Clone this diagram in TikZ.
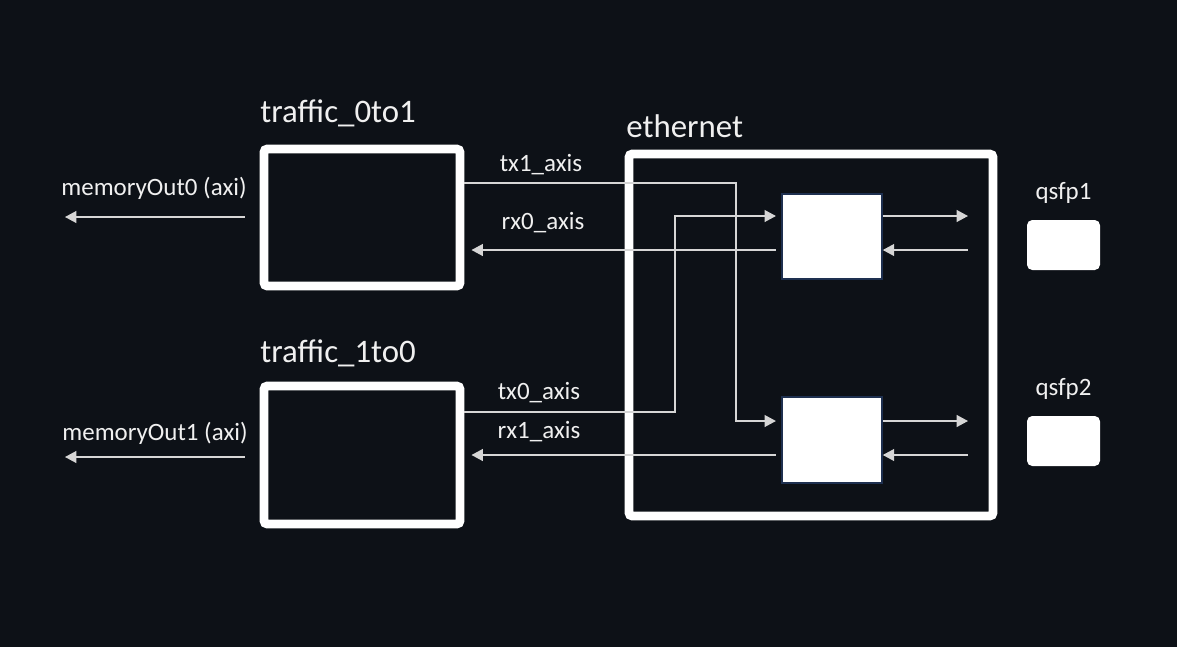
\documentclass[tikz,border=0pt]{standalone}
\usepackage{fontspec}
\setmainfont{Carlito}
\usetikzlibrary{arrows.meta,positioning,fit}
\definecolor{bgdark}{RGB}{13,17,23}
\definecolor{wireclr}{RGB}{214,214,214}
\definecolor{edgeblue}{RGB}{30,48,80}
\definecolor{txtclr}{RGB}{240,240,240}
\tikzset{
  blockbox/.style={draw=white, line width=5.1pt, rounded corners=2pt, inner sep=0pt},
  macbox/.style={draw=edgeblue, fill=white, line width=0.9pt, inner sep=0pt},
  portbox/.style={fill=white, rounded corners=3pt, inner sep=0pt},
  sig/.style={draw=wireclr, line width=0.8pt, -{Triangle[length=6.5pt,width=6.8pt]}},
  bigtitle/.style={text=txtclr, font=\fontsize{18.7}{22}\selectfont, inner sep=0pt, anchor=base west},
  wirelabel/.style={text=txtclr, font=\fontsize{14.2}{17}\selectfont, inner sep=0pt}
}
\begin{document}
\begin{tikzpicture}[x=0.02cm, y=-0.02cm]

% background
\fill[bgdark] (0,0) rectangle (1177,647);
\useasboundingbox (0,0) rectangle (1177,647);

% traffic blocks
\node[blockbox, fit={(264,149) (460,286)}] (t01) {};
\node[bigtitle] (t01lbl) at (260,122) {traffic\_0to1};
\node[blockbox, fit={(264,386) (460,524)}] (t10) {};
\node[bigtitle] (t10lbl) at (260,362) {traffic\_1to0};

% ethernet block
\node[blockbox, fit={(629,154) (993,516)}] (eth) {};
\node[bigtitle] (ethlbl) at (626,137) {ethernet};
\node[macbox, fit={(782,194) (882,279)}] (macA) {};
\node[macbox, fit={(782,397) (882,483)}] (macB) {};

% qsfp ports
\node[portbox, fit={(1027,220) (1100,270)}] (qsfpA) {};
\node[wirelabel, above=9pt of qsfpA] (qsfpAlbl) {qsfp1};
\node[portbox, fit={(1027,416) (1100,466)}] (qsfpB) {};
\node[wirelabel, above=9pt of qsfpB] (qsfpBlbl) {qsfp2};

% free ends
\coordinate (mem0) at (65,217);
\coordinate (mem1) at (65,457);
\coordinate (pAout) at (968,216);
\coordinate (pAin) at (968,250);
\coordinate (pBout) at (968,421);
\coordinate (pBin) at (968,455);

% memory outputs
\draw[sig] (t01.west |- mem0) ++(-15,0) -- (mem0);
\node[wirelabel] (mem0lbl) at (154,188) {memoryOut0 (axi)};
\draw[sig] (t10.west |- mem1) ++(-15,0) -- (mem1);
\node[wirelabel] (mem1lbl) at (155,433) {memoryOut1 (axi)};

% crossing streams
\draw[sig] (t01.east |- 0,183) -| (736,421) -- ([xshift=-3pt]macB.west |- 0,421);
\node[wirelabel] (tx1lbl) at (541,165) {tx1\_axis};
\draw[sig] (t10.east |- 0,412) -| (675,216) -- ([xshift=-3pt]macA.west |- 0,216);
\node[wirelabel] (tx0lbl) at (539,393) {tx0\_axis};
\draw[sig] ([xshift=-3pt]macA.west |- 0,250) -- ([xshift=4pt]t01.east |- 0,250);
\node[wirelabel] (rx0lbl) at (543,223) {rx0\_axis};
\draw[sig] ([xshift=-3pt]macB.west |- 0,455) -- ([xshift=4pt]t10.east |- 0,455);
\node[wirelabel] (rx1lbl) at (539,432) {rx1\_axis};

% mac to port
\draw[sig] (macA.east |- pAout) -- (pAout);
\draw[sig] (pAin) -- (macA.east |- pAin);
\draw[sig] (macB.east |- pBout) -- (pBout);
\draw[sig] (pBin) -- (macB.east |- pBin);

\end{tikzpicture}
\end{document}
